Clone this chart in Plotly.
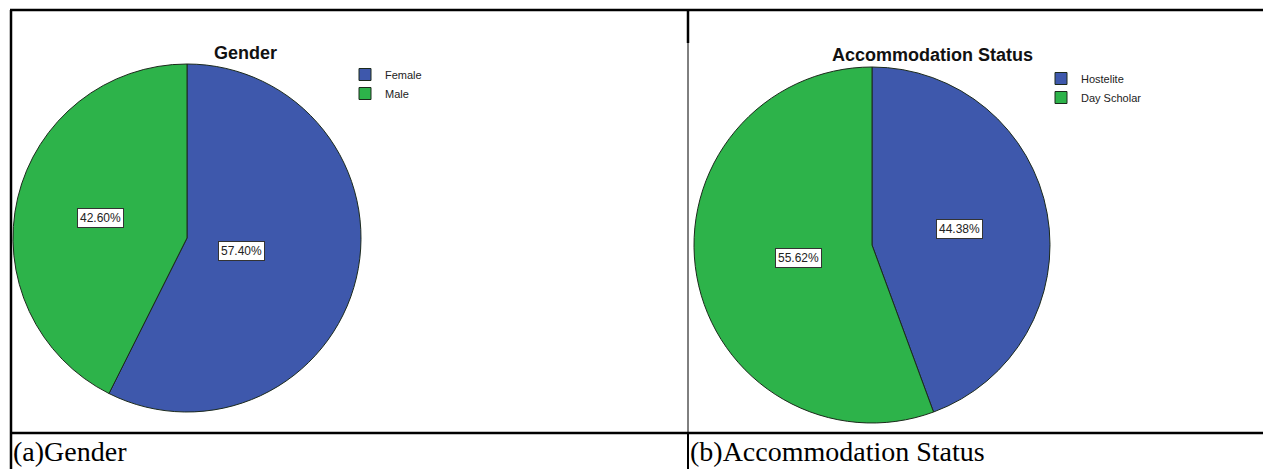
import math
import plotly.graph_objects as go

# ---- data ----
gender_labels = ["Female", "Male"]
gender_values = [57.40, 42.60]
accom_labels = ["Hostelite", "Day Scholar"]
accom_values = [44.38, 55.62]
titles = ["Gender", "Accommodation Status"]
captions = ["(a)Gender", "(b)Accommodation Status"]

# ---- style ----
W, H = 1263, 469
COLORS = ["#3E58AC", "#2DB34A"]
EDGE = "#1c2a1c"
# pie geometry in pixels: (cx, cy, r)
GEOM = [(187, 238, 174), (872, 245, 178)]
LABEL_R = [[0.32, 0.51], [0.50, 0.42]]
TITLE_POS = [(245, 53), (932, 55)]
LEGEND_POS = [(345, 60), (1041, 64)]
CAPTION_POS = [(11, 451), (688, 451)]


def px(x):
    return x / W


def py(y):
    return 1 - y / H


fig = go.Figure()
datasets = [(gender_labels, gender_values), (accom_labels, accom_values)]
legend_names = ["legend", "legend2"]

for i, (labels, values) in enumerate(datasets):
    cx, cy, r = GEOM[i]
    fig.add_trace(go.Pie(
        labels=labels, values=values, sort=False, direction="clockwise",
        rotation=0, textinfo="none", hoverinfo="label+percent",
        marker=dict(colors=COLORS, line=dict(color=EDGE, width=1)),
        domain=dict(x=[px(cx - r), px(cx + r)], y=[py(cy + r), py(cy - r)]),
        legend=legend_names[i], showlegend=True,
    ))
    # boxed percentage labels placed along each slice's mid angle
    total = sum(values)
    cum = 0
    for j, v in enumerate(values):
        mid = (cum + v / 2) / total * 2 * math.pi
        cum += v
        rr = r * LABEL_R[i][j]
        lx = cx + rr * math.sin(mid)
        ly = cy - rr * math.cos(mid)
        fig.add_annotation(
            x=px(lx), y=py(ly), xref="paper", yref="paper",
            xanchor="center", yanchor="middle",
            text=f"{v / total * 100:.2f}%", showarrow=False,
            font=dict(family="Arial, Liberation Sans", size=12, color="#222"),
            bgcolor="white", bordercolor="#333", borderwidth=1, borderpad=2,
        )
    # title
    tx, ty = TITLE_POS[i]
    fig.add_annotation(
        x=px(tx), y=py(ty), xref="paper", yref="paper", showarrow=False,
        xanchor="center", yanchor="middle",
        text=f"<b>{titles[i]}</b>",
        font=dict(family="Arial, Liberation Sans", size=18, color="#111"),
    )
    # caption
    capx, capy = CAPTION_POS[i]
    fig.add_annotation(
        x=px(capx), y=py(capy), xref="paper", yref="paper", showarrow=False,
        xanchor="left", yanchor="middle", text=captions[i],
        font=dict(family="Liberation Serif, Times New Roman", size=28, color="black"),
    )

legend_style = dict(
    font=dict(family="Arial, Liberation Sans", size=11, color="#222"),
    xanchor="left", yanchor="top", xref="paper", yref="paper",
    bgcolor="rgba(0,0,0,0)", itemwidth=30, tracegroupgap=0,
    itemclick=False, itemdoubleclick=False,
)
fig.update_layout(
    width=W, height=H,
    margin=dict(l=0, r=0, t=0, b=0),
    paper_bgcolor="white", plot_bgcolor="white",
    legend=dict(x=px(LEGEND_POS[0][0]), y=py(LEGEND_POS[0][1]), **legend_style),
    legend2=dict(x=px(LEGEND_POS[1][0]), y=py(LEGEND_POS[1][1]), **legend_style),
)


def hline(y, x0, x1, w):
    fig.add_shape(type="line", xref="paper", yref="paper", layer="above",
                  x0=px(x0), x1=px(x1), y0=py(y), y1=py(y),
                  line=dict(color="black", width=w))


def vline(x, y0, y1, w):
    fig.add_shape(type="line", xref="paper", yref="paper", layer="above",
                  x0=px(x), x1=px(x), y0=py(y0), y1=py(y1),
                  line=dict(color="black", width=w))


# table grid lines
hline(10, 10, W, 2.5)
hline(433, 10, W, 2.5)
vline(11, 10, H, 2.5)
vline(688, 10, 43, 2.5)
vline(688, 43, 433, 1)
vline(688, 433, H, 2)

fig.write_html("out.html")
